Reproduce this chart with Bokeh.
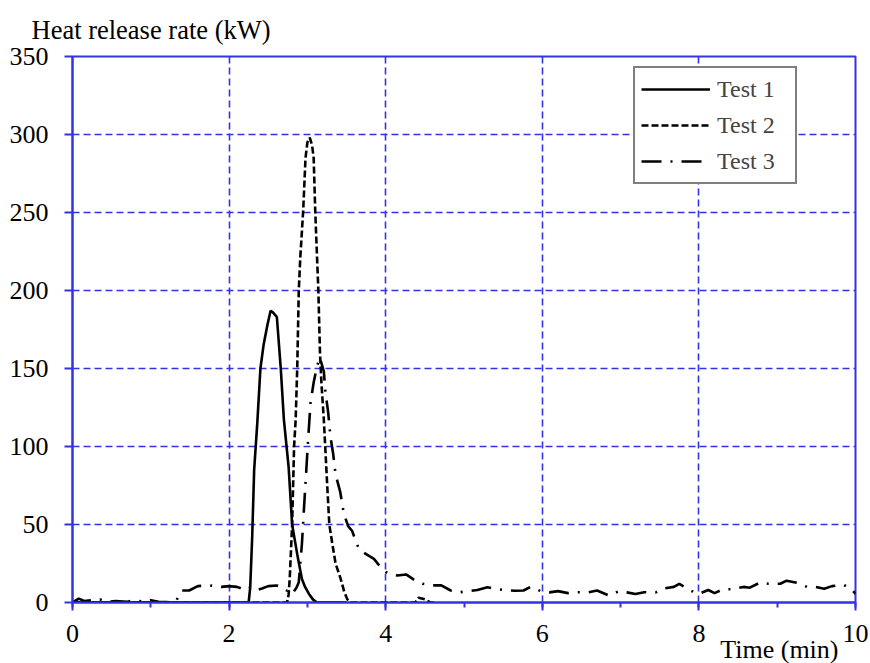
from bokeh.plotting import figure
from bokeh.models import (Range1d, SingleIntervalTicker, Legend, LegendItem, Title)
from bokeh.embed import file_html
from bokeh.resources import INLINE

# ---- data (time in min, heat release rate in kW) ----
t1 = [0, 2.2, 2.25, 2.27, 2.295, 2.32, 2.36, 2.40, 2.44, 2.49, 2.53, 2.56, 2.61,
      2.66, 2.70, 2.76, 2.805, 2.87, 2.93, 2.97, 3.02, 3.07, 3.12, 3.5]
v1 = [0, 0, 0, 10, 42, 85, 115, 150, 165, 178, 187, 186, 183,
      150, 117, 87, 50, 31, 15, 10, 5.5, 2, 0, 0]

t2 = [0, 2.74, 2.76, 2.775, 2.805, 2.83, 2.85, 2.87, 2.89, 2.91, 2.946, 2.976, 3.0,
      3.03, 3.06, 3.08, 3.10, 3.125, 3.14, 3.16, 3.18, 3.21, 3.25, 3.28, 3.32, 3.36,
      3.42, 3.47, 3.51, 3.55, 4.38, 4.42, 4.50, 4.57, 4.65]
v2 = [0, 0, 5, 16, 50, 100, 117, 150, 200, 222, 251, 285, 295,
      298, 293, 285, 251, 219, 200, 161, 140, 117, 78, 50, 37, 25,
      16, 7, 2, 0, 0, 3, 2, 0, 0]

t3 = [0, 0.08, 0.15, 0.25, 0.35, 0.45, 0.55, 0.7, 0.8, 0.9, 1.0, 1.1, 1.2, 1.32,
      1.36, 1.40, 1.49, 1.6, 1.75, 1.9, 2.0, 2.1, 2.21, 2.28, 2.35, 2.42, 2.5, 2.61,
      2.70, 2.74, 2.78, 2.82, 2.86, 2.89, 2.93, 2.95, 2.98, 3.01, 3.04, 3.08, 3.12,
      3.16, 3.21, 3.23, 3.265, 3.295, 3.33, 3.36, 3.42, 3.465, 3.52, 3.57, 3.66,
      3.75, 3.85, 3.96, 4.02, 4.15, 4.26, 4.36, 4.47, 4.59, 4.71, 4.83, 4.95, 5.06,
      5.17, 5.30, 5.42, 5.53, 5.65, 5.76, 5.85, 5.98, 6.09, 6.2, 6.33, 6.46, 6.58,
      6.70, 6.85, 6.98, 7.08, 7.19, 7.3, 7.45, 7.53, 7.68, 7.75, 7.89, 8.0, 8.12,
      8.2, 8.31, 8.43, 8.57, 8.65, 8.79, 8.89, 9.04, 9.12, 9.26, 9.38, 9.49, 9.6,
      9.70, 9.85, 9.96, 10.0]
v3 = [0, 2.5, 1, 1.5, 2, 0.5, 1, 0.5, 1.5, 0.5, 1.5, 0.5, 0.3, 0,
      5.6, 7.7, 7.7, 10.5, 11, 10, 10.5, 10, 8, 10, 8, 9, 10.5, 10.9,
      9, 7.5, 8.8, 6.5, 9.5, 13, 37.6, 55, 80, 105, 128, 141, 151,
      157, 148, 135, 122, 106, 95, 82, 70.7, 57, 49, 46, 34,
      31, 28, 21, 19, 17.3, 18, 14.7, 12, 11, 11, 7.7, 6.6, 7.3,
      8, 9.8, 8.5, 8, 7.5, 7.7, 10, 7.3, 6.5, 7.3, 6, 6.6, 6.5,
      7.7, 4.5, 7.3, 6.5, 5.5, 6.6, 6.5, 8.8, 10, 12, 7.7, 5.5, 8,
      6, 8.5, 8.5, 10, 9.5, 13, 12, 12, 14, 12.5, 10, 10, 8.8,
      10.5, 11.3, 8, 5.5]

series_names = ["Test 1", "Test 2", "Test 3"]
x_label = "Time (min)"
y_label = "Heat release rate (kW)"

BLUE = "#3333e6"
FONT = "Liberation Serif"

p = figure(width=870, height=663, output_backend="svg", toolbar_location=None,
           x_range=Range1d(0, 10), y_range=Range1d(0, 350),
           min_border_left=72, min_border_right=15, min_border_top=56,
           min_border_bottom=61)
p.background_fill_color = "white"
p.border_fill_color = "white"
p.outline_line_color = BLUE
p.outline_line_width = 2

# y-axis caption as the plot title, top-left
p.title.text = y_label
p.title.align = "left"
p.title.offset = -41
p.title.standoff = 20
p.title.vertical_align = "top"
p.title.text_font = FONT
p.title.text_font_size = "26.5px"
p.title.text_font_style = "normal"
p.title.text_color = "black"

r1 = p.line(t1, v1, line_color="black", line_width=2.6)
r2 = p.line(t2, v2, line_color="black", line_width=2.6, line_dash="7 3")
r3 = p.line(t3, v3, line_color="black", line_width=2.6, line_dash="20 9 2 9")

xa = p.xaxis[0]
xa.ticker = SingleIntervalTicker(interval=2, num_minor_ticks=2)
ya = p.yaxis[0]
ya.ticker = SingleIntervalTicker(interval=50, num_minor_ticks=0)

for ax in (xa, ya):
    ax.axis_line_color = BLUE
    ax.axis_line_width = 2
    ax.major_tick_line_color = BLUE
    ax.major_tick_line_width = 2
    ax.major_tick_out = 8
    ax.major_tick_in = 0
    ax.major_label_text_font = FONT
    ax.major_label_text_font_size = "26px"
    ax.major_label_text_color = "black"

xa.minor_tick_line_color = BLUE
xa.minor_tick_line_width = 2
xa.minor_tick_out = 5
xa.minor_tick_in = 0
xa.major_label_standoff = 14
ya.minor_tick_line_color = None
ya.major_label_standoff = 16

# x-axis caption, bottom right, tucked under the tick labels
x_title = Title(text=x_label, align="right", offset=17, standoff=-20,
                vertical_align="top", text_font=FONT, text_font_size="26px",
                text_font_style="normal", text_color="black")
p.add_layout(x_title, "below")

for g in (p.xgrid[0], p.ygrid[0]):
    g.grid_line_color = BLUE
    g.grid_line_width = 1.6
    g.grid_line_dash = "7 4"

legend = Legend(items=[LegendItem(label=series_names[0], renderers=[r1]),
                       LegendItem(label=series_names[1], renderers=[r2]),
                       LegendItem(label=series_names[2], renderers=[r3])],
                location=(561, 418))
legend.border_line_color = "black"
legend.border_line_width = 2
legend.background_fill_color = "white"
legend.background_fill_alpha = 1
legend.label_text_font = FONT
legend.label_text_font_size = "24px"
legend.glyph_width = 69
legend.glyph_height = 30
legend.label_height = 30
legend.label_width = 72
legend.label_standoff = 7
legend.spacing = 6
legend.padding = 6
legend.margin = 0
p.add_layout(legend, "center")

open("out.html", "w").write(file_html(p, INLINE))
